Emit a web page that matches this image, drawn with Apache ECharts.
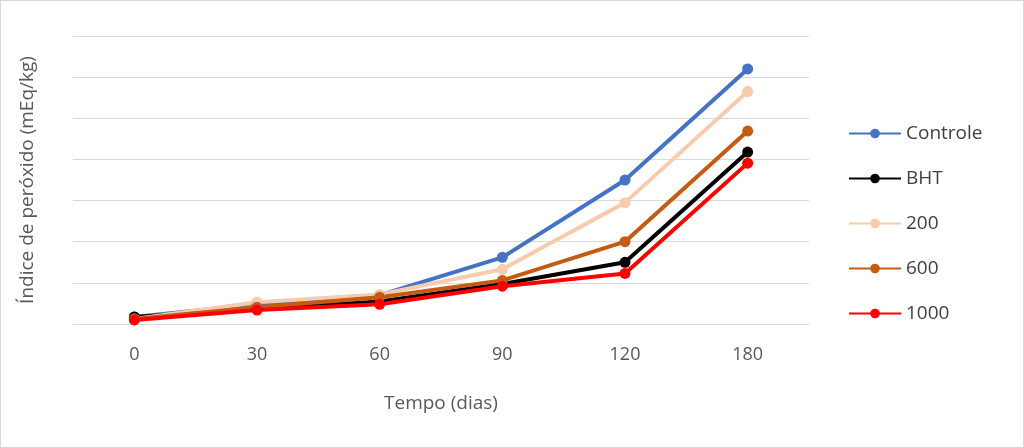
<!DOCTYPE html>
<html><head><meta charset="utf-8">
<script src="https://cdn.jsdelivr.net/npm/echarts@6/dist/echarts.min.js"></script>
<style>html,body{margin:0;padding:0;background:#fff}#c{width:1024px;height:448px;box-sizing:border-box;border:1px solid #d9d9d9}</style>
</head><body><div id="c"></div>
<script>
const categories = ['0','30','60','90','120','180'];
const controle = [0.17,0.48,0.7,1.62,3.5,6.2];
const bht = [0.17,0.36,0.55,0.97,1.5,4.18];
const s200 = [0.12,0.53,0.72,1.33,2.95,5.65];
const s600 = [0.12,0.41,0.65,1.06,2.0,4.69];
const s1000 = [0.1,0.34,0.48,0.92,1.23,3.91];
const names = ['Controle','BHT','200','600','1000'];
const colors = ['#4472C4','#000000','#F8CBAD','#C55A11','#FF0000'];
const data = [controle,bht,s200,s600,s1000];
const chart = echarts.init(document.getElementById('c'));
chart.setOption({
  animation:false,
  textStyle:{fontFamily:'Open Sans, Liberation Sans, sans-serif'},
  grid:{left:72,right:214,top:35,bottom:123},
  legend:{orient:'vertical',left:842,top:118,itemGap:26,itemWidth:52,itemHeight:12,
    textStyle:{fontSize:19,color:'#404040'},data:names},
  xAxis:{type:'category',data:categories,name:'Tempo (dias)',nameLocation:'middle',nameGap:70,
    nameTextStyle:{fontSize:19,color:'#595959'},
    axisTick:{show:false},axisLine:{lineStyle:{color:'#d9d9d9'}},
    axisLabel:{fontSize:18,color:'#595959',margin:22}},
  yAxis:{type:'value',min:0,max:7,interval:1,name:'Índice de peróxido (mEq/kg)',nameLocation:'middle',nameGap:36,
    nameTextStyle:{fontSize:19,color:'#595959'},axisLabel:{show:false},
    splitLine:{lineStyle:{color:'#d9d9d9'}}},
  series:names.map((n,i)=>({name:n,type:'line',data:data[i],symbol:'circle',symbolSize:11,
    lineStyle:{width:4,color:colors[i]},itemStyle:{color:colors[i]}}))
});
</script></body></html>
